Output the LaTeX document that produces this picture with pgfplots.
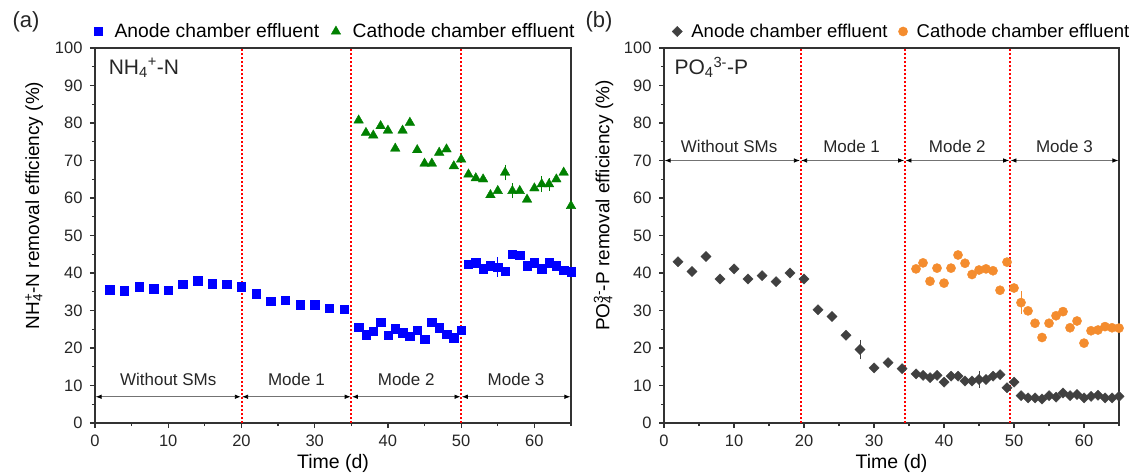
\documentclass[border=0pt]{standalone}
\usepackage{fontspec}
\setmainfont{Liberation Sans}
\usepackage{pgfplots}
\pgfplotsset{compat=1.18}
\usetikzlibrary{arrows.meta}
\definecolor{myblue}{RGB}{0,0,255}
\definecolor{mygreen}{RGB}{0,128,0}
\definecolor{mygray}{RGB}{64,64,64}
\definecolor{myorange}{RGB}{244,140,46}
\definecolor{axgray}{RGB}{50,50,50}
\definecolor{myred}{RGB}{255,0,0}
\pgfplotsset{
  myaxis/.style={
    scale only axis, height=375pt,
    xmin=0, xmax=65, ymin=0, ymax=100,
    xtick={0,10,...,60}, minor xtick={5,15,...,65},
    ytick={0,10,...,100}, minor ytick={5,15,...,95},
    tick align=outside, xtick pos=bottom, ytick pos=left,
    major tick length=5pt, minor tick length=3pt,
    axis line style={line width=1.5pt, axgray},
    tick style={line width=1.2pt, axgray},
    tick label style={font=\fontsize{16.5}{16.5}\selectfont, text=black!85},
    xticklabel style={yshift=-3pt},
    yticklabel style={xshift=-4pt},
    /pgf/number format/assume math mode=true,
    clip=false,
    legend columns=2,
    legend style={draw=none, fill=none},
    /tikz/every even column/.append style={column sep=10pt},
    /tikz/every odd column/.append style={column sep=10pt},
    xlabel style={font=\fontsize{19.5}{19.5}\selectfont, at={(axis description cs:0.5,-0.107)}, anchor=center},
    ylabel style={font=\fontsize{19}{19}\selectfont, anchor=center},
  },
  redline/.style={draw=myred, line width=1.9pt, dash pattern=on 2pt off 2pt, forget plot},
}
\tikzset{
  modearrow/.style={line width=0.8pt, black!55, {Latex[length=6pt,width=4.5pt,color=black]}-{Latex[length=6pt,width=4.5pt,color=black]}, shorten <=0.6pt, shorten >=0.6pt},
  modelabel/.style={font=\fontsize{17}{17}\selectfont, text=black!85},
}
\begin{document}
\begin{tikzpicture}
\path[use as bounding box] (0,0) rectangle (1138pt,475pt);
\node[font=\fontsize{22}{22}\selectfont, text=black!85] at (26pt,453pt) {(a)};
\node[font=\fontsize{22}{22}\selectfont, text=black!85] at (599pt,453pt) {(b)};

% ---------------- Panel (a) ----------------
\begin{axis}[myaxis, at={(95pt,52pt)}, anchor=south west, width=476pt,
  xlabel={Time (d)},
  ylabel={NH\rlap{\textsubscript{4}}\textsuperscript{+}-N removal efficiency (\%)},
  ylabel style={at={(axis description cs:-0.128,0.58)}},
  legend style={at={(0,1.044)}, anchor=west, xshift=-4pt, font=\fontsize{19.3}{19.3}\selectfont}]
\addplot[redline] coordinates {(20.05,0) (20.05,100)};
\addplot[redline] coordinates {(35,0) (35,100)};
\addplot[redline] coordinates {(50,0) (50,100)};
% error bars
\addplot[forget plot, draw=none, mark=none, error bars/.cd, y dir=both, y explicit,
  error bar style={draw=myblue, line width=0.7pt}, error mark options={draw=myblue, line width=0.7pt, mark size=3pt}]
  coordinates {(55,41.6) +- (0,1.8)};
\addplot[forget plot, draw=none, mark=none, error bars/.cd, y dir=both, y explicit,
  error bar style={draw=mygreen, line width=0.7pt}, error mark options={draw=mygreen, line width=0.7pt, mark size=3pt}]
  coordinates {(56,66.8) +- (0,1.3) (57,61.9) +- (0,1.2) (61,63.7) +- (0,1.3) (62,63.7) +- (0,0.9)};
\addplot[only marks, mark=square*, mark size=4.2pt, color=myblue] coordinates {
(2,35.5) (4,35.3) (6,36.3) (8,35.8) (10,35.4) (12,37.0) (14,38.0) (16,37.2) (18,37.0) (20,36.4)
(22,34.5) (24,32.5) (26,32.8) (28,31.5) (30,31.5) (32,30.6) (34,30.3)
(36,25.6) (37,23.5) (38,24.5) (39,26.9) (40,23.4) (41,25.1) (42,24.1) (43,23.2) (44,24.7) (45,22.3) (46,26.9) (47,25.4) (48,23.7) (49,22.7) (50,24.7)
(51,42.4) (52,42.8) (53,41.2) (54,41.9) (55,41.6) (56,40.5) (57,45.0) (58,44.8) (59,41.9) (60,42.8) (61,41.2) (62,42.8) (63,41.9) (64,40.7) (65,40.3)
};
\addlegendentry{Anode chamber effluent}
\addplot[only marks, mark=triangle*, mark size=5.5pt, color=mygreen] coordinates {
(36,80.7) (37,77.4) (38,76.7) (39,79.2) (40,78.0) (41,73.2) (42,78.0) (43,80.1) (44,72.8) (45,69.2) (46,69.2) (47,72.1) (48,73.0) (49,68.5) (50,70.3)
(51,66.3) (52,65.3) (53,65.0) (54,60.8) (55,61.9) (56,66.8) (57,61.9) (58,61.9) (59,59.6) (60,62.6) (61,63.7) (62,63.7) (63,65.0) (64,66.8) (65,57.9)
};
\addlegendentry{Cathode chamber effluent}
\draw[modearrow] (axis cs:0,7) -- (axis cs:20,7);
\draw[modearrow] (axis cs:20,7) -- (axis cs:35,7);
\draw[modearrow] (axis cs:35,7) -- (axis cs:50,7);
\draw[modearrow] (axis cs:50,7) -- (axis cs:65,7);
\node[modelabel] at (axis cs:10,11.6) {Without SMs};
\node[modelabel] at (axis cs:27.5,11.6) {Mode 1};
\node[modelabel] at (axis cs:42.5,11.6) {Mode 2};
\node[modelabel] at (axis cs:57.5,11.6) {Mode 3};
\node[anchor=west, font=\fontsize{21}{21}\selectfont, text=black!85] at (axis cs:1.4,94.7) {NH\textsubscript{4}\textsuperscript{+}-N};
\end{axis}

% ---------------- Panel (b) ----------------
\begin{axis}[myaxis, at={(664pt,52pt)}, anchor=south west, width=455pt,
  xlabel={Time (d)},
  ylabel={PO\rlap{\textsubscript{4}}\textsuperscript{3-}-P removal efficiency (\%)},
  ylabel style={at={(axis description cs:-0.133,0.58)}},
  legend style={at={(0,1.044)}, anchor=west, xshift=5pt, font=\fontsize{18.5}{18.5}\selectfont},
  /tikz/every even column/.append style={column sep=9pt},
  /tikz/every odd column/.append style={column sep=7pt}]
\addplot[redline] coordinates {(19.55,0) (19.55,100)};
\addplot[redline] coordinates {(34.4,0) (34.4,100)};
\addplot[redline] coordinates {(49.4,0) (49.4,100)};
\addplot[forget plot, draw=none, mark=none, error bars/.cd, y dir=both, y explicit,
  error bar style={draw=mygray, line width=0.7pt}, error mark options={draw=mygray, line width=0.7pt, mark size=3pt}]
  coordinates {(28,19.6) +- (0,1.8) (45,11.6) +- (0,1.5)};
\addplot[forget plot, draw=none, mark=none, error bars/.cd, y dir=both, y explicit,
  error bar style={draw=myorange, line width=0.7pt}, error mark options={draw=myorange, line width=0.7pt, mark size=3pt}]
  coordinates {(51,32.1) +- (0,2.2)};
\addplot[only marks, mark=square*, mark size=3.6pt, mark options={rotate=45}, color=mygray] coordinates {
(2,43.0) (4,40.4) (6,44.4) (8,38.4) (10,41.1) (12,38.4) (14,39.3) (16,37.7) (18,40.0) (20,38.4)
(22,30.2) (24,28.4) (26,23.4) (28,19.6) (30,14.7) (32,16.1) (34,14.5)
(36,13.1) (37,12.7) (38,12.1) (39,12.7) (40,10.9) (41,12.5) (42,12.5) (43,11.2) (44,11.2) (45,11.6) (46,11.6) (47,12.5) (48,12.9) (49,9.4) (50,10.9)
(51,7.3) (52,6.7) (53,6.7) (54,6.4) (55,7.3) (56,6.9) (57,8.0) (58,7.3) (59,7.6) (60,6.7) (61,7.1) (62,7.4) (63,6.7) (64,6.7) (65,7.1)
};
\addlegendentry{Anode chamber effluent}
\addplot[only marks, mark=*, mark size=4.6pt, color=myorange] coordinates {
(36,41.1) (37,42.7) (38,37.8) (39,41.3) (40,37.3) (41,41.3) (42,44.8) (43,42.6) (44,39.6) (45,40.8) (46,41.1) (47,40.6) (48,35.4) (49,42.9) (50,36.0)
(51,32.1) (52,29.9) (53,26.6) (54,22.8) (55,26.6) (56,28.6) (57,29.7) (58,25.4) (59,27.2) (60,21.3) (61,24.6) (62,24.8) (63,25.7) (64,25.4) (65,25.3)
};
\addlegendentry{Cathode chamber effluent}
\draw[modearrow] (axis cs:0,70) -- (axis cs:19.5,70);
\draw[modearrow] (axis cs:19.5,70) -- (axis cs:34.4,70);
\draw[modearrow] (axis cs:34.4,70) -- (axis cs:49.4,70);
\draw[modearrow] (axis cs:49.4,70) -- (axis cs:65,70);
\node[modelabel] at (axis cs:9.3,73.8) {Without SMs};
\node[modelabel] at (axis cs:26.8,73.8) {Mode 1};
\node[modelabel] at (axis cs:41.9,73.8) {Mode 2};
\node[modelabel] at (axis cs:57.2,73.8) {Mode 3};
\node[anchor=west, font=\fontsize{21}{21}\selectfont, text=black!85] at (axis cs:1.0,94.8) {PO\textsubscript{4}\textsuperscript{3-}-P};
\end{axis}
\end{tikzpicture}
\end{document}
